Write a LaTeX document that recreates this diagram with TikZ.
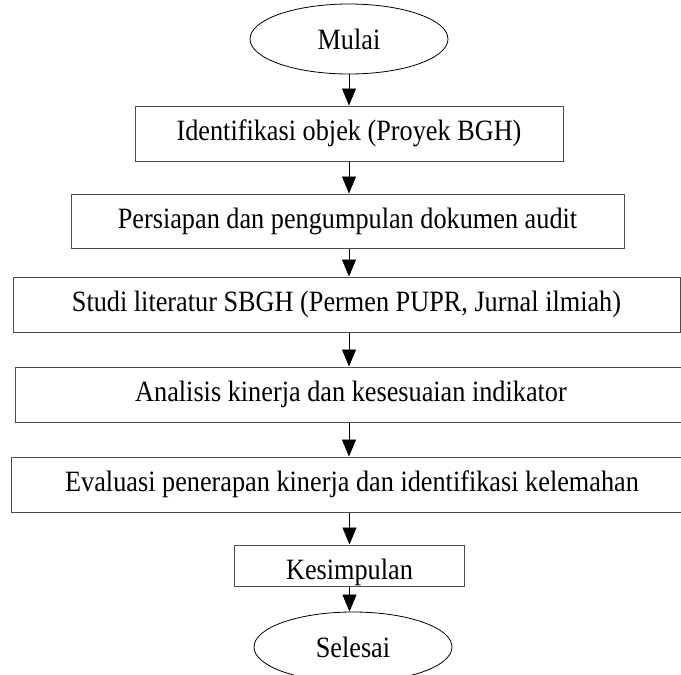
\documentclass[tikz,border=0pt]{standalone}
\usepackage{fontspec}
\setmainfont{Liberation Serif}[FakeStretch=0.89]
\usetikzlibrary{shapes.geometric,arrows.meta}
\tikzset{
  stepbox/.style={
    draw=black!70,line width=1pt,fill=white,
    minimum height=55pt,inner sep=0pt,
    font=\fontsize{29.5}{34}\selectfont
  },
  termnode/.style={
    ellipse,draw=black,line width=0.8pt,fill=white,
    minimum width=198pt,minimum height=70pt,inner sep=0pt,
    font=\fontsize{29.5}{34}\selectfont
  },
  flowarrow/.style={
    draw=black,line width=0.7pt,-{Triangle[length=17pt,width=14pt]}
  },
}

\begin{document}
\begin{tikzpicture}[x=1pt,y=-1pt]
  \useasboundingbox (0,0) rectangle (681,675);
  \node[termnode] (mulai) at (349, 39) {Mulai};
  \node[stepbox, minimum width=428pt] (b1) at (349, 133.5) {Identifikasi objek (Proyek BGH)};
  \node[stepbox, minimum width=553pt, minimum height=54pt] (b2) at (347.5, 221) {Persiapan dan pengumpulan dokumen audit};
  \node[stepbox, minimum width=667pt] (b3) at (346.5, 304.5) {Studi literatur SBGH (Permen PUPR, Jurnal ilmiah)};
  \node[stepbox, minimum width=672pt] (b4) at (351, 394.5) {Analisis kinerja dan kesesuaian indikator};
  \node[stepbox, minimum width=682pt] (b5) at (352, 484.5) {Evaluasi penerapan kinerja dan identifikasi kelemahan};
  \node[stepbox, minimum width=230pt, minimum height=41pt, text height=27pt, text depth=0pt] (kes) at (349.5, 565.5) {Kesimpulan};
  \node[termnode] (selesai) at (353, 647) {Selesai};
  % arrows down the axis
  \draw[flowarrow] (mulai.south) -- (mulai.south |- b1.north);
  \draw[flowarrow] (b1.south) -- (b1.south |- b2.north);
  \draw[flowarrow] (b2.south -| b1.south) -- (b1.south |- b3.north);
  \draw[flowarrow] (b3.south -| b1.south) -- (b1.south |- b4.north);
  \draw[flowarrow] (b4.south -| b1.south) -- (b1.south |- b5.north);
  \draw[flowarrow] (b5.south -| kes.north) -- (kes.north);
  \draw[flowarrow] (kes.south) -- (kes.south |- selesai.north);
\end{tikzpicture}
\end{document}
